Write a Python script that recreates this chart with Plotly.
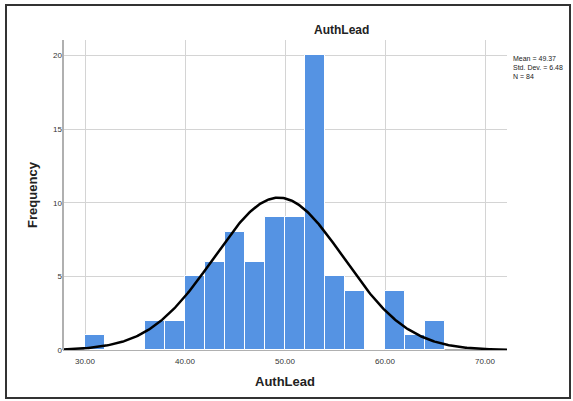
import numpy as np
import plotly.graph_objects as go

# Data
bin_edges = [30, 32, 34, 36, 38, 40, 42, 44, 46, 48, 50, 52, 54, 56, 58, 60, 62, 64, 66]
counts = [1, 0, 0, 2, 2, 5, 6, 8, 6, 9, 9, 20, 5, 4, 0, 4, 1, 2]
mean_val = 49.37
std_val = 6.48
n_val = 84
x_ticks = [30, 40, 50, 60, 70]
x_tick_labels = ["30.00", "40.00", "50.00", "60.00", "70.00"]
y_ticks = [0, 5, 10, 15, 20]

W, H = 573, 401
L, R, T, B = 63, 66, 40, 51
pw, ph = W - L - R, H - T - B

centers = [(bin_edges[i] + bin_edges[i + 1]) / 2 for i in range(len(counts))]
widths = [bin_edges[i + 1] - bin_edges[i] for i in range(len(counts))]
bw = widths[0]

xr = [27.8, 72.2]
xs = np.linspace(xr[0], xr[1], 400)
ys = n_val * bw / (std_val * np.sqrt(2 * np.pi)) * np.exp(-0.5 * ((xs - mean_val) / std_val) ** 2)

fig = go.Figure()
fig.add_trace(go.Bar(x=centers, y=counts, width=widths,
                     marker=dict(color="#5593e3", line=dict(color="white", width=1)),
                     hoverinfo="x+y", showlegend=False))
fig.add_trace(go.Scatter(x=xs, y=ys, mode="lines",
                         line=dict(color="black", width=2.5), showlegend=False))

font_family = "Liberation Sans, Arial, sans-serif"

def px2paper_x(px):
    return (px - L) / pw

def px2paper_y(py):
    return (H - B - py) / ph

fig.update_layout(
    width=W, height=H,
    margin=dict(l=L, r=R, t=T, b=B),
    plot_bgcolor="white", paper_bgcolor="white",
    font=dict(family=font_family, color="#222"),
    bargap=0,
    xaxis=dict(range=xr, tickvals=x_ticks, ticktext=x_tick_labels,
               showgrid=True, gridcolor="#d4d4d4", gridwidth=1,
               showline=False, zeroline=False, ticks="",
               ticklabelstandoff=5,
               tickfont=dict(size=8, color="#333"),
               title=dict(text="<b>AuthLead</b>", font=dict(size=13, color="#222"), standoff=11)),
    yaxis=dict(range=[0, 21.05], tickvals=y_ticks,
               showgrid=True, gridcolor="#d4d4d4", gridwidth=1,
               showline=False, zeroline=False, ticks="",
               tickfont=dict(size=8, color="#333"),
               title=dict(text="<b>Frequency</b>", font=dict(size=13, color="#222"), standoff=12)),
    annotations=[
        dict(text="<b>AuthLead</b>", xref="paper", yref="paper",
             x=px2paper_x(341), y=px2paper_y(30), showarrow=False,
             font=dict(size=12, color="#222"), xanchor="center", yanchor="middle"),
        dict(text="Mean = %.2f<br>Std. Dev. = %.2f<br>N = %d" % (mean_val, std_val, n_val),
             xref="paper", yref="paper", x=px2paper_x(511), y=px2paper_y(53),
             showarrow=False, align="left", xanchor="left", yanchor="top",
             font=dict(size=7, color="#222")),
    ],
    shapes=[
        dict(type="line", xref="paper", yref="paper", x0=0, x1=0, y0=0, y1=1,
             line=dict(color="#b0b0b0", width=2)),
        dict(type="line", xref="paper", yref="paper", x0=0, x1=1, y0=0, y1=0,
             line=dict(color="#b0b0b0", width=2), layer="below"),
        dict(type="rect", xref="paper", yref="paper",
             x0=px2paper_x(6), x1=px2paper_x(570), y0=px2paper_y(398), y1=px2paper_y(5),
             line=dict(color="#333", width=2)),
    ],
)

fig.write_html("out.html", config={"displayModeBar": False},
               post_script="document.body.style.margin='0';document.body.style.padding='0';")
